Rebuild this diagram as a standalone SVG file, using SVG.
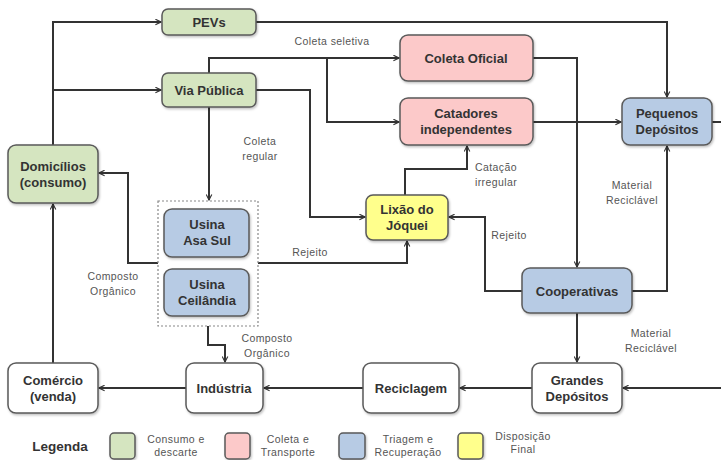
<svg xmlns="http://www.w3.org/2000/svg" width="721" height="460" viewBox="0 0 721 460">
<style>
.n{stroke:#5a5a5a;stroke-width:1.5;filter:url(#sh)}
.g{fill:#d5e5c0}.p{fill:#fcc9c9}.b{fill:#b7cbe4}.y{fill:#ffff8c}.w{fill:#fff}
.t{font-family:"Liberation Sans",Arial,sans-serif;font-weight:bold;font-size:13px;fill:#333;text-anchor:middle}
.l{font-family:"Liberation Sans",Arial,sans-serif;font-size:10.5px;letter-spacing:0.4px;fill:#555;text-anchor:middle}
.c path{fill:none;stroke:#333;stroke-width:2;marker-end:url(#a)}
.c path.nm{marker-end:none}
</style>
<defs>
<marker id="a" viewBox="0 0 10 10" refX="9" refY="5" markerWidth="7" markerHeight="7" markerUnits="userSpaceOnUse" orient="auto">
<path d="M1,1 L9,5 L1,9" fill="none" stroke="#333" stroke-width="1.6"/>
</marker>
<filter id="sh" x="-10%" y="-10%" width="130%" height="140%">
<feDropShadow dx="1" dy="1.5" stdDeviation="1" flood-color="#000" flood-opacity="0.25"/>
</filter>
</defs>
<rect width="721" height="460" fill="#fff"/>
<g class="c">
<path d="M53,145 V22 H161"/>
<path d="M53,90 H161"/>
<path d="M256,22 H667 V97"/>
<path d="M209,73 V58 H399"/>
<path d="M327,58 V122 H399"/>
<path d="M256,90 H310 V217 H365"/>
<path d="M209,107 V200"/>
<path d="M158,263 H128 V173 H99"/>
<path d="M258,263 H407 V241"/>
<path d="M208,326 V345 H225 V362"/>
<path d="M405,195 V169 H467 V146"/>
<path d="M533,122 H621"/>
<path d="M533,58 H577 V267"/>
<path d="M522,291 H485 V217 H449"/>
<path d="M632,291 H667 V146"/>
<path d="M577,313 V362"/>
<path class="nm" d="M712,122 H722"/>
<path d="M722,388 H623"/>
<path d="M532,388 H460"/>
<path d="M363,388 H264"/>
<path d="M186,388 H99"/>
<path d="M53,363 V204"/>
</g>
<g id="labels">
<text class="l" x="332" y="45">Coleta seletiva</text>
<text class="l" x="260" y="145">Coleta</text>
<text class="l" x="260" y="160">regular</text>
<text class="l" x="113" y="280">Composto</text>
<text class="l" x="113" y="295">Orgânico</text>
<text class="l" x="310" y="256">Rejeito</text>
<text class="l" x="267" y="342">Composto</text>
<text class="l" x="267" y="357">Orgânico</text>
<text class="l" x="496" y="171">Catação</text>
<text class="l" x="496" y="186">irregular</text>
<text class="l" x="509" y="239">Rejeito</text>
<text class="l" x="632" y="189">Material</text>
<text class="l" x="632" y="204">Reciclável</text>
<text class="l" x="651" y="337">Material</text>
<text class="l" x="651" y="352">Reciclável</text>
</g>
<g id="pevs"><rect class="n g" x="162" y="9" width="94" height="26" rx="6"/><text class="t" x="209" y="27">PEVs</text></g>
<g id="via"><rect class="n g" x="162" y="73" width="94" height="34" rx="6"/><text class="t" x="209" y="95">Via Pública</text></g>
<g id="domicilios"><rect class="n g" x="8" y="145" width="90" height="58" rx="8"/><text class="t" x="53" y="171">Domicílios</text><text class="t" x="53" y="187">(consumo)</text></g>
<g id="coleta"><rect class="n p" x="400" y="35" width="133" height="46" rx="8"/><text class="t" x="466" y="63">Coleta Oficial</text></g>
<g id="catadores"><rect class="n p" x="400" y="98" width="133" height="47" rx="8"/><text class="t" x="466" y="118">Catadores</text><text class="t" x="466" y="134">independentes</text></g>
<g id="pequenos"><rect class="n b" x="622" y="98" width="90" height="47" rx="8"/><text class="t" x="667" y="118">Pequenos</text><text class="t" x="667" y="134">Depósitos</text></g>
<g id="usinas"><rect x="158" y="201" width="100" height="125" fill="none" stroke="#888" stroke-width="1.2" stroke-dasharray="2,2"/></g>
<g id="asasul"><rect class="n b" x="164" y="209" width="85" height="48" rx="8"/><text class="t" x="207" y="229">Usina</text><text class="t" x="207" y="245">Asa Sul</text></g>
<g id="ceilandia"><rect class="n b" x="164" y="269" width="85" height="47" rx="8"/><text class="t" x="207" y="289">Usina</text><text class="t" x="207" y="305">Ceilândia</text></g>
<g id="lixao"><rect class="n y" x="366" y="195" width="82" height="45" rx="7"/><text class="t" x="407" y="214">Lixão do</text><text class="t" x="407" y="230">Jóquei</text></g>
<g id="cooperativas"><rect class="n b" x="522" y="268" width="110" height="45" rx="8"/><text class="t" x="577" y="296">Cooperativas</text></g>
<g id="grandes"><rect class="n w" x="532" y="363" width="90" height="50" rx="8"/><text class="t" x="577" y="385">Grandes</text><text class="t" x="577" y="401">Depósitos</text></g>
<g id="reciclagem"><rect class="n w" x="363" y="363" width="96" height="50" rx="8"/><text class="t" x="411" y="393">Reciclagem</text></g>
<g id="industria"><rect class="n w" x="186" y="363" width="77" height="50" rx="8"/><text class="t" x="224" y="393">Indústria</text></g>
<g id="comercio"><rect class="n w" x="8" y="363" width="90" height="50" rx="8"/><text class="t" x="53" y="385">Comércio</text><text class="t" x="53" y="401">(venda)</text></g>
<g id="legenda">
<text class="t" x="60" y="451" style="font-size:13.5px">Legenda</text>
<rect class="n g" x="110" y="433" width="25" height="26" rx="4"/>
<text class="l" x="176" y="443">Consumo e</text><text class="l" x="176" y="456">descarte</text>
<rect class="n p" x="225" y="433" width="25" height="26" rx="4"/>
<text class="l" x="288" y="443">Coleta e</text><text class="l" x="288" y="456">Transporte</text>
<rect class="n b" x="339" y="433" width="26" height="26" rx="4"/>
<text class="l" x="408" y="443">Triagem e</text><text class="l" x="408" y="456">Recuperação</text>
<rect class="n y" x="458" y="433" width="25" height="26" rx="4"/>
<text class="l" x="523" y="440">Disposição</text><text class="l" x="523" y="453">Final</text>
</g>
</svg>
